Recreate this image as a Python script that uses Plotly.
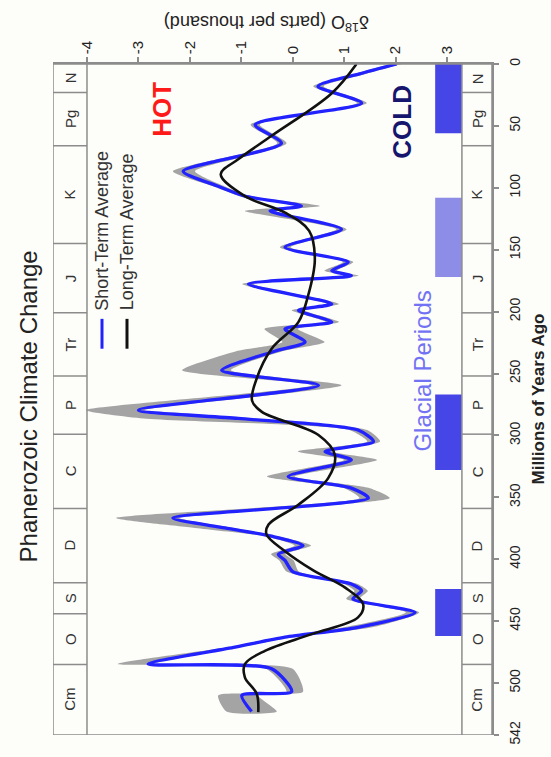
import plotly.graph_objects as go

# ---------------- data ----------------
st_time = [0, 8, 18, 31.6, 49, 64, 86.6, 98.7, 106.7, 114.7,
           118.7, 133.5, 148, 160, 167, 171, 177.7, 193.8, 199, 208.5,
           214, 224.6, 232, 247.4, 259.5, 279.6, 286.3, 295.7, 305, 313,
           319.8, 333.2, 342.6, 350.6, 366.7, 374.7, 381.4, 389, 396, 401,
           410, 420, 425.6, 432, 443, 455, 463, 471, 484.7, 488.5,
           507, 510, 523]
st_d18o = [2.02, 1.3, 0.49, 1.34, -0.73, -0.22, -2.13, -1.45, -0.93, 0.17,
           -0.44, 0.95, -0.15, 1.08, 0.76, 1.14, -0.86, 0.76, 0.11, 0.76,
           -0.15, 0.24, -0.35, -1.38, 0.5, -3.0, -1.06, 1.27, 1.57, 0.63,
           1.14, -0.09, 1.14, 1.47, -2.33, -1.32, -0.41, 0.2, -0.28, -0.15,
           0.0, 1.14, 1.34, 1.17, 2.38, 1.27, -0.15, -1.12, -2.81, -0.41,
           -0.02, -0.99, -0.8]
band_low = [1.9, 1.2, 0.4, 1.25, -0.82, -0.3, -2.33, -1.55, -1.02, 0.06,
            -0.93, 0.85, -0.25, 0.98, 0.62, 1.04, -0.98, 0.66, -0.02, 0.64,
            -0.55, -0.2, -1.1, -2.15, 0.38, -4.02, -2.9, 1.1, 1.45, 0.1,
            1.0, -0.5, 1.0, 1.3, -3.43, -1.9, -0.55, 0.04, -0.42, -0.26,
            -0.12, 1.0, 1.2, 1.04, 2.2, 1.0, -0.27, -1.24, -3.4, -0.52,
            -0.12, -1.45, -1.29]
band_high = [2.12, 1.42, 0.6, 1.44, -0.64, -0.12, -1.9, -1.33, -0.84, 0.53,
             -0.33, 1.05, -0.04, 1.18, 0.86, 1.28, -0.76, 0.9, 0.22, 0.9,
             0.1, 0.62, -0.2, -1.2, 0.95, -2.88, -0.94, 1.45, 1.7, 0.75,
             1.64, 0.04, 1.5, 1.89, -2.2, -1.15, -0.3, 0.36, -0.14, 0.02,
             0.12, 1.26, 1.46, 1.3, 2.46, 1.55, -0.04, -1.0, -2.7, 0.0,
             0.2, -0.67, -0.31]

lt_time = [0, 23.6, 58, 77, 89, 106.7, 120, 134.8, 157.6, 187,
           208.5, 230, 254, 272, 281, 299.7, 315.8, 334.5, 356, 372,
           380, 393.5, 409, 423, 436.4, 447, 460.5, 474, 484.7, 495.4,
           508.8, 523.5]
lt_d18o = [1.24, 0.76, -0.41, -1.06, -1.4, -0.93, -0.15, 0.32, 0.43, 0.3,
           0.11, -0.41, -0.7, -0.79, -0.6, 0.5, 0.82, 0.69, 0.11, -0.47,
           -0.51, -0.15, 0.4, 1.02, 1.37, 1.27, 0.37, -0.54, -0.93, -0.93,
           -0.7, -0.67]

periods = ["N", "Pg", "K", "J", "Tr", "P", "C", "D", "S", "O", "Cm"]
period_bounds = [0, 23, 66, 145, 201, 252, 299, 359, 419, 444, 485, 542]

glacial_start = [0, 108, 267, 424]
glacial_end = [56, 172, 328, 462]
glacial_strength = ["full", "partial", "full", "full"]

x_ticks = [-4, -3, -2, -1, 0, 1, 2, 3]
t_ticks = [0, 50, 100, 150, 200, 250, 300, 350, 400, 450, 500, 542]

# ---------------- layout geometry ----------------
W, H = 551, 757
ML, MR, MT, MB = 53, 59, 64, 19
X_MIN, X_MAX = -4.661, 3.875
STRIP_L = -4.0
STRIP_R = 3.29
GLAC_X0, GLAC_X1 = 2.77, 3.29
FONT = "Liberation Sans, Arial, sans-serif"
GRID = "#8c8c8c"
BG = "#fdfdf9"

pw = W - ML - MR
ph = H - MT - MB


def pxx(x):
    return (x - ML) / pw


def pxy(y):
    return 1 - (y - MT) / ph


fig = go.Figure()

# uncertainty band
fig.add_trace(go.Scatter(
    x=band_low + band_high[::-1],
    y=st_time + st_time[::-1],
    fill="toself", fillcolor="#a4a4a4",
    line=dict(width=0, shape="spline", smoothing=0.6),
    mode="lines", hoverinfo="skip", showlegend=False))

# short-term average
fig.add_trace(go.Scatter(
    x=st_d18o, y=st_time, mode="lines",
    line=dict(color="#2222ff", width=3.3, shape="spline", smoothing=0.7),
    showlegend=False))

# long-term average
fig.add_trace(go.Scatter(
    x=lt_d18o, y=lt_time, mode="lines",
    line=dict(color="#111111", width=2.6, shape="spline", smoothing=1.0),
    showlegend=False))

shapes = []
annotations = []

# glacial period bars
for s, e, k in zip(glacial_start, glacial_end, glacial_strength):
    col = "#4646e6" if k == "full" else "#8d8de8"
    shapes.append(dict(type="rect", xref="x", yref="y", x0=GLAC_X0, x1=GLAC_X1,
                       y0=s, y1=e, fillcolor=col, line=dict(width=0), layer="above"))

# period strips
line_style = dict(color=GRID, width=1.5)
shapes.append(dict(type="rect", xref="x", yref="y", x0=X_MIN, x1=X_MAX, y0=0, y1=542,
                   line=line_style, layer="above"))
for xv in (STRIP_L, STRIP_R):
    shapes.append(dict(type="line", xref="x", yref="y", x0=xv, x1=xv, y0=0, y1=542,
                       line=line_style, layer="above"))
for b in period_bounds[1:-1]:
    shapes.append(dict(type="line", xref="x", yref="y", x0=X_MIN, x1=STRIP_L, y0=b, y1=b,
                       line=line_style, layer="above"))
    shapes.append(dict(type="line", xref="x", yref="y", x0=STRIP_R, x1=X_MAX, y0=b, y1=b,
                       line=line_style, layer="above"))
for i, p in enumerate(periods):
    mid = (period_bounds[i] + period_bounds[i + 1]) / 2
    for xc in ((X_MIN + STRIP_L) / 2, (STRIP_R + X_MAX) / 2):
        annotations.append(dict(x=xc, y=mid, xref="x", yref="y", text=p, showarrow=False,
                                xanchor="center", yanchor="middle",
                                textangle=-90, font=dict(family=FONT, size=15, color="#333333")))

# legend (manual, rotated)
for xpx, col, label, ln in ((102, "#2222ff", "Short-Term Average", 9.06),
                            (127, "#111111", "Long-Term Average", 8.89)):
    shapes.append(dict(type="line", xref="paper", yref="paper",
                       x0=pxx(xpx), x1=pxx(xpx), y0=pxy(320), y1=pxy(350),
                       line=dict(color=col, width=3)))
    annotations.append(dict(x=pxx(xpx), y=pxy(313 - ln * 18 / 2), xref="paper", yref="paper",
                            text=label, showarrow=False, textangle=-90,
                            xanchor="center", yanchor="middle",
                            font=dict(family=FONT, size=18, color="#333333")))


def label(xp, yp, text, size, color, angle=-90):
    return dict(x=pxx(xp), y=pxy(yp), xref="paper", yref="paper", text=text,
                showarrow=False, textangle=angle, xanchor="center", yanchor="middle",
                font=dict(family=FONT, size=size, color=color))


annotations += [
    label(28, 408, "Phanerozoic Climate Change", 24, "#222222"),
    label(162, 110, "<b>HOT</b>", 26, "#ff1a1a"),
    label(402, 122, "<b>COLD</b>", 26, "#16166e"),
    label(423, 373, "Glacial Periods", 24, "#7272f4"),
    label(538, 401, "<b>Millions of Years Ago</b>", 17, "#222222"),
    label(267, 23, "δ<sup>18</sup>O (parts per thousand)", 18, "#222222", angle=180),
]

fig.update_layout(
    width=W, height=H,
    margin=dict(l=ML, r=MR, t=MT, b=MB, pad=0),
    paper_bgcolor=BG, plot_bgcolor=BG,
    showlegend=False,
    shapes=shapes, annotations=annotations,
    xaxis=dict(range=[X_MIN, X_MAX], side="top", tickmode="array", tickvals=x_ticks,
               ticktext=[str(v) for v in x_ticks], tickangle=-90,
               ticks="outside", ticklen=5, tickcolor=GRID, tickwidth=1.5,
               showline=True, linecolor=GRID, linewidth=1.5,
               showgrid=False, zeroline=False,
               tickfont=dict(family=FONT, size=15, color="#222222")),
    yaxis=dict(range=[542, 0], side="right", tickmode="array", tickvals=t_ticks,
               ticktext=[str(v) for v in t_ticks], tickangle=-90,
               ticks="outside", ticklen=5, tickcolor=GRID, tickwidth=1.5,
               showline=True, linecolor=GRID, linewidth=1.5,
               showgrid=False, zeroline=False, ticklabelstandoff=4,
               tickfont=dict(family=FONT, size=14, color="#222222")),
)

fig.write_html("out.html", config={"displayModeBar": False},
               post_script="document.body.style.margin='0px';document.body.style.overflow='hidden';")
